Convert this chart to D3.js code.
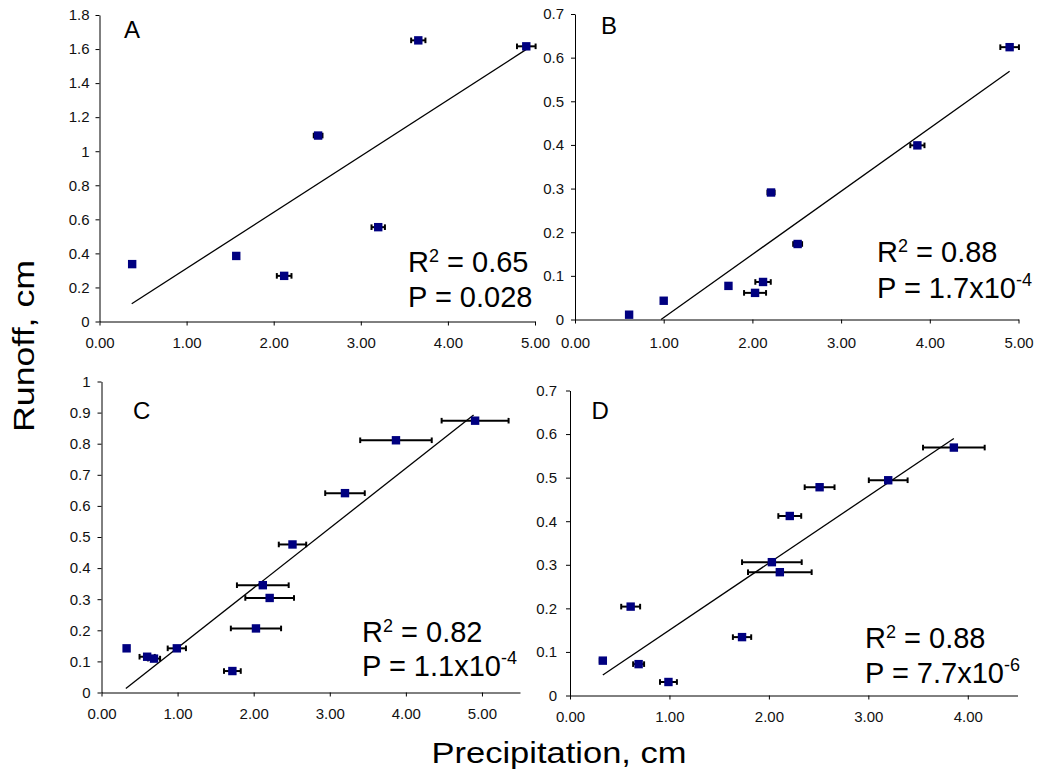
<!DOCTYPE html>
<html><head><meta charset="utf-8">
<script src="https://cdn.jsdelivr.net/npm/d3@7"></script>
<style>
body{margin:0;background:#fff}
svg{display:block}
text{font-family:"Liberation Sans",Arial,Helvetica,sans-serif}
</style>
</head><body>
<svg id="chart" width="1039" height="780"></svg>
<script>
// ---------- data ----------
const panelNames = ["A", "B", "C", "D"];

const precipA = [0.375, 1.57, 2.12, 2.51, 3.20, 3.66, 4.90];
const runoffA = [0.337, 0.385, 0.268, 1.092, 0.554, 1.651, 1.616];
const errA    = [0, 0, 0.084, 0.05, 0.077, 0.082, 0.107];
const trendA  = [[0.37, 0.104], [4.90, 1.598]];

const precipB = [0.61, 1.00, 1.73, 2.03, 2.12, 2.21, 2.51, 3.86, 4.90];
const runoffB = [0.011, 0.043, 0.077, 0.061, 0.086, 0.291, 0.173, 0.399, 0.624];
const errB    = [0, 0, 0, 0.124, 0.087, 0.04, 0.05, 0.08, 0.105];
const trendB  = [[0.97, 0], [4.90, 0.569]];

const precipC = [0.33, 0.60, 0.69, 0.99, 1.72, 2.03, 2.12, 2.21, 2.51, 3.20, 3.87, 4.91];
const runoffC = [0.142, 0.115, 0.109, 0.142, 0.069, 0.206, 0.345, 0.304, 0.476, 0.641, 0.811, 0.874];
const errC    = [0.03, 0.10, 0.08, 0.12, 0.11, 0.33, 0.34, 0.32, 0.18, 0.26, 0.47, 0.44];
const trendC  = [[0.32, 0.013], [4.89, 0.892]];

const precipD = [0.33, 0.61, 0.69, 0.99, 1.73, 2.03, 2.11, 2.21, 2.51, 3.20, 3.86];
const runoffD = [0.080, 0.204, 0.072, 0.031, 0.134, 0.306, 0.283, 0.412, 0.478, 0.494, 0.569];
const errD    = [0.03, 0.095, 0.055, 0.085, 0.092, 0.30, 0.32, 0.115, 0.15, 0.195, 0.31];
const trendD  = [[0.33, 0.047], [3.86, 0.590]];

const xTicksA = [0, 1, 2, 3, 4, 5];
const xTicksB = [0, 1, 2, 3, 4, 5];
const xTicksC = [0, 1, 2, 3, 4, 5];
const xTicksD = [0, 1, 2, 3, 4];
const xTickLabels = ["0.00", "1.00", "2.00", "3.00", "4.00", "5.00"];

const yTicksA = [0, 0.2, 0.4, 0.6, 0.8, 1, 1.2, 1.4, 1.6, 1.8];
const yLabelsA = ["0", "0.2", "0.4", "0.6", "0.8", "1", "1.2", "1.4", "1.6", "1.8"];
const yTicksB = [0, 0.1, 0.2, 0.3, 0.4, 0.5, 0.6, 0.7];
const yLabelsB = ["0", "0.1", "0.2", "0.3", "0.4", "0.5", "0.6", "0.7"];
const yTicksC = [0, 0.1, 0.2, 0.3, 0.4, 0.5, 0.6, 0.7, 0.8, 0.9, 1];
const yLabelsC = ["0", "0.1", "0.2", "0.3", "0.4", "0.5", "0.6", "0.7", "0.8", "0.9", "1"];
const yTicksD = [0, 0.1, 0.2, 0.3, 0.4, 0.5, 0.6, 0.7];
const yLabelsD = ["0", "0.1", "0.2", "0.3", "0.4", "0.5", "0.6", "0.7"];

const r2Values = ["0.65", "0.88", "0.82", "0.88"];
const pMantissa = ["0.028", "1.7x10", "1.1x10", "7.7x10"];
const pExponent = ["", "-4", "-4", "-6"];

const yTitle = "Runoff, cm";
const xTitle = "Precipitation, cm";

// ---------- layout ----------
const svg = d3.select("#chart");
const markerColor = "#000080";

const panels = [
  {name: panelNames[0], xs: precipA, ys: runoffA, es: errA, trend: trendA,
   xDomain: [0, 5], xRange: [99.5, 535], yDomain: [0, 1.8], yRange: [321.5, 15],
   xTicks: xTicksA, yTicks: yTicksA, yLabels: yLabelsA, xPad: 12, yPad: 6,
   letter: [124, 38], ann: [408, 271.5, 306.5], r2: r2Values[0], pm: pMantissa[0], pe: pExponent[0]},
  {name: panelNames[1], xs: precipB, ys: runoffB, es: errB, trend: trendB,
   xDomain: [0, 5], xRange: [575, 1018.5], yDomain: [0, 0.7], yRange: [319.5, 14],
   xTicks: xTicksB, yTicks: yTicksB, yLabels: yLabelsB, xPad: 14, yPad: 7,
   letter: [601, 33.5], ann: [877, 262, 297.5], r2: r2Values[1], pm: pMantissa[1], pe: pExponent[1]},
  {name: panelNames[2], xs: precipC, ys: runoffC, es: errC, trend: trendC,
   xDomain: [0, 5.5], xRange: [101.5, 520], yDomain: [0, 1], yRange: [692.5, 381.5],
   xTicks: xTicksC, yTicks: yTicksC, yLabels: yLabelsC, xPad: 12, yPad: 7,
   letter: [133, 419], ann: [362, 641.5, 675.5], r2: r2Values[2], pm: pMantissa[2], pe: pExponent[2]},
  {name: panelNames[3], xs: precipD, ys: runoffD, es: errD, trend: trendD,
   xDomain: [0, 4.5], xRange: [570, 1017.5], yDomain: [0, 0.7], yRange: [695.5, 390.5],
   xTicks: xTicksD, yTicks: yTicksD, yLabels: yLabelsD, xPad: 12, yPad: 9,
   letter: [591.5, 419], ann: [865, 648, 683], r2: r2Values[3], pm: pMantissa[3], pe: pExponent[3]}
];

function styleAxis(sel) {
  sel.attr("font-size", 15).attr("font-family", null);
  sel.selectAll("path.domain").attr("stroke", "#000").attr("stroke-width", 1);
  sel.selectAll(".tick line").attr("stroke", "#000").attr("stroke-width", 1);
  sel.selectAll(".tick text").attr("fill", "#111");
}

panels.forEach(p => {
  const g = svg.append("g");
  const x = d3.scaleLinear().domain(p.xDomain).range(p.xRange);
  const y = d3.scaleLinear().domain(p.yDomain).range(p.yRange);

  g.append("g")
    .attr("transform", `translate(0,${p.yRange[0]})`)
    .call(d3.axisBottom(x).tickValues(p.xTicks)
      .tickFormat((d, i) => xTickLabels[i])
      .tickSize(4).tickSizeOuter(0).tickPadding(p.xPad))
    .call(styleAxis);

  g.append("g")
    .attr("transform", `translate(${p.xRange[0]},0)`)
    .call(d3.axisLeft(y).tickValues(p.yTicks)
      .tickFormat((d, i) => p.yLabels[i])
      .tickSize(4).tickSizeOuter(0).tickPadding(p.yPad))
    .call(styleAxis);

  // trend line
  g.append("line")
    .attr("x1", x(p.trend[0][0])).attr("y1", y(p.trend[0][1]))
    .attr("x2", x(p.trend[1][0])).attr("y2", y(p.trend[1][1]))
    .attr("stroke", "#000").attr("stroke-width", 1.3);

  const pts = p.xs.map((v, i) => ({x: v, y: p.ys[i], e: p.es[i]}));

  // horizontal error bars
  const eb = g.append("g").selectAll("g").data(pts.filter(d => d.e > 0)).join("g");
  eb.append("line")
    .attr("x1", d => x(d.x - d.e)).attr("x2", d => x(d.x + d.e))
    .attr("y1", d => y(d.y)).attr("y2", d => y(d.y))
    .attr("stroke", "#000").attr("stroke-width", 2);
  eb.append("line")
    .attr("x1", d => x(d.x - d.e)).attr("x2", d => x(d.x - d.e))
    .attr("y1", d => y(d.y) - 2.8).attr("y2", d => y(d.y) + 2.8)
    .attr("stroke", "#000").attr("stroke-width", 2);
  eb.append("line")
    .attr("x1", d => x(d.x + d.e)).attr("x2", d => x(d.x + d.e))
    .attr("y1", d => y(d.y) - 2.8).attr("y2", d => y(d.y) + 2.8)
    .attr("stroke", "#000").attr("stroke-width", 2);

  // markers
  g.append("g").selectAll("rect").data(pts).join("rect")
    .attr("x", d => x(d.x) - 4.2).attr("y", d => y(d.y) - 4.2)
    .attr("width", 8.4).attr("height", 8.4)
    .attr("fill", markerColor);

  // panel letter
  g.append("text").attr("x", p.letter[0]).attr("y", p.letter[1])
    .attr("font-size", 24).attr("fill", "#000").text(p.name);

  // R2 annotation
  const t1 = g.append("text").attr("x", p.ann[0]).attr("y", p.ann[1])
    .attr("font-size", 29).attr("fill", "#000");
  t1.append("tspan").text("R");
  t1.append("tspan").attr("dy", -10).attr("font-size", 18).text("2");
  t1.append("tspan").attr("dy", 10).text(" = " + p.r2);

  const t2 = g.append("text").attr("x", p.ann[0]).attr("y", p.ann[2])
    .attr("font-size", 29).attr("fill", "#000");
  t2.append("tspan").text("P = " + p.pm);
  if (p.pe) t2.append("tspan").attr("dy", -12).attr("font-size", 18).text(p.pe);
});

// axis titles
svg.append("text")
  .attr("transform", "translate(34,346) rotate(-90)")
  .attr("text-anchor", "middle")
  .attr("font-size", 30)
  .attr("textLength", 172).attr("lengthAdjust", "spacingAndGlyphs")
  .text(yTitle);

svg.append("text")
  .attr("x", 559).attr("y", 763)
  .attr("text-anchor", "middle")
  .attr("font-size", 29)
  .attr("textLength", 255).attr("lengthAdjust", "spacingAndGlyphs")
  .text(xTitle);
</script>
</body></html>
